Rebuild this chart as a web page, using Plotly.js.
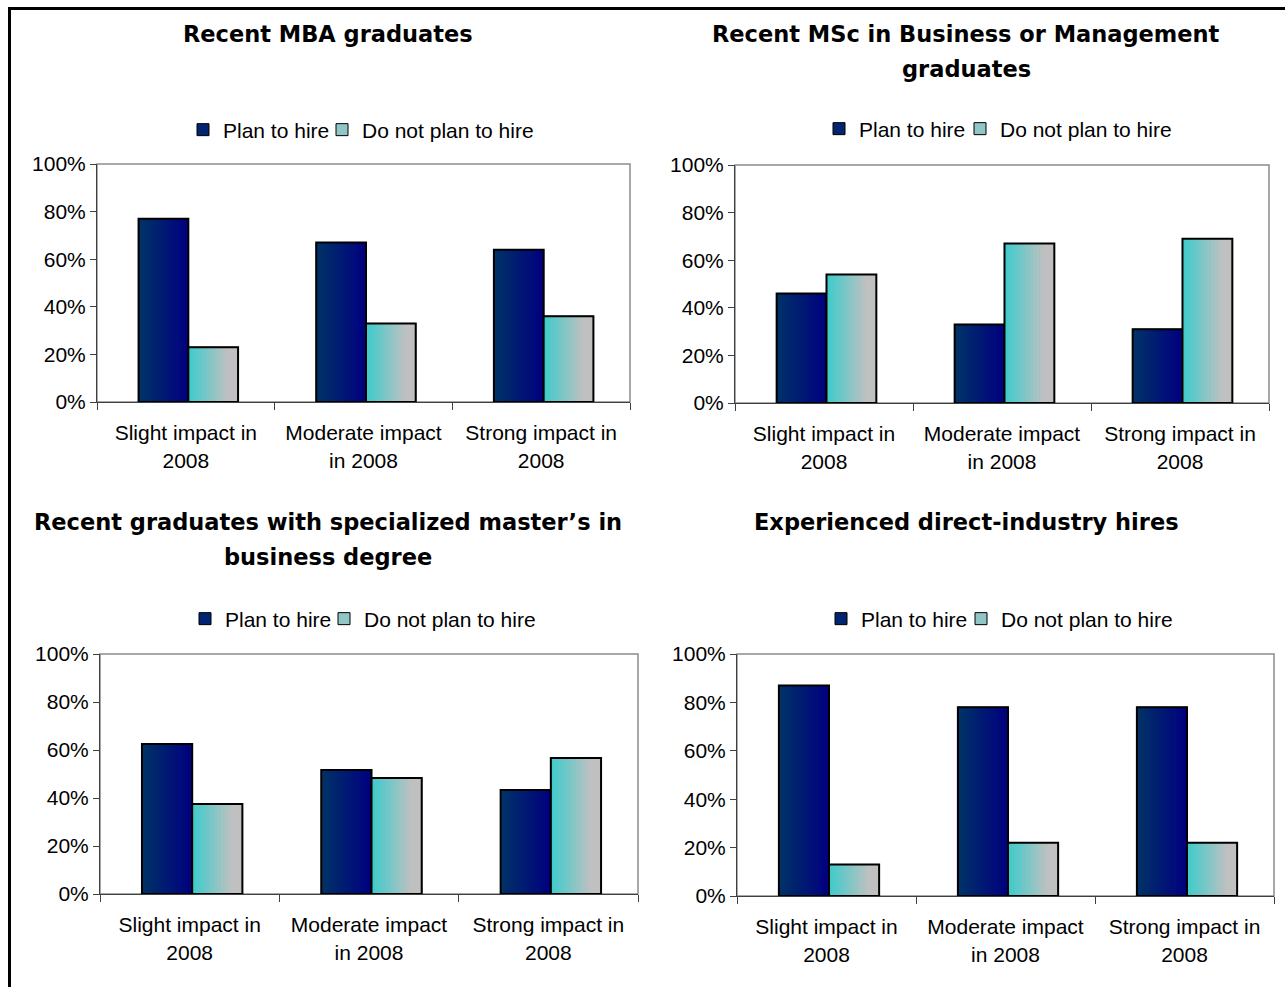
<!DOCTYPE html>
<html>
<head>
<meta charset="utf-8">
<script src="https://cdn.plot.ly/plotly-3.0.1.min.js"></script>
<style>html,body{margin:0;padding:0;background:#fff;}#chart{width:1285px;height:987px;}</style>
</head>
<body>
<div id="chart"></div>
<script>
// ---- data ----
const categories = ["Slight impact in<br>2008", "Moderate impact<br>in 2008", "Strong impact in<br>2008"];
const seriesNames = ["Plan to hire", "Do not plan to hire"];
const panelTitles = [
  "Recent MBA graduates",
  "Recent MSc in Business or Management<br>graduates",
  "Recent graduates with specialized master\u2019s in<br>business degree",
  "Experienced direct-industry hires"
];
const mbaPlan = [77, 67, 64];
const mbaNotPlan = [23, 33, 36];
const mscPlan = [46, 33, 31];
const mscNotPlan = [54, 67, 69];
const specPlan = [62.5, 51.7, 43.3];
const specNotPlan = [37.5, 48.3, 56.7];
const expPlan = [87, 78, 78];
const expNotPlan = [13, 22, 22];
const yTickVals = [0, 20, 40, 60, 80, 100];
const yTickText = ["0%", "20%", "40%", "60%", "80%", "100%"];

// ---- layout helpers ----
const W = 1285, H = 987;
const fx = p => p / W;
const fy = p => 1 - p / H;
const panels = [
  {plan: mbaPlan, not: mbaNotPlan, box: [97, 630, 164, 402], titleX: 328, titleY: [34], legX: [226, 365], legY: 130},
  {plan: mscPlan, not: mscNotPlan, box: [735, 1269, 165, 403], titleX: 966, titleY: [34, 69], legX: [862, 1003], legY: 129},
  {plan: specPlan, not: specNotPlan, box: [100, 638, 654, 894], titleX: 328, titleY: [522, 557], legX: [228, 367], legY: 619},
  {plan: expPlan, not: expNotPlan, box: [737, 1274, 654, 896], titleX: 966, titleY: [522], legX: [864, 1004], legY: 619}
];

function hexToRgb(h){return [1,3,5].map(i=>parseInt(h.substr(i,2),16));}
function mix(a,b,t){const A=hexToRgb(a),B=hexToRgb(b);return 'rgb('+A.map((v,i)=>Math.round(v+(B[i]-v)*t)).join(',')+')';}

const BAR_W = 0.28;
const OFFSETS = [-0.266, 0.014];
const GRADS = [
  {from: '#003366', to: '#000080', stop: 1.0, mid: '#02256f'},
  {from: '#3ccccc', to: '#c0c0c0', stop: 0.8, mid: '#90c6c6'}
];
const NSTRIP = 14;
const LEG_TEXT_OFFSET = 43;

const FONT = 'Liberation Sans, Arial, sans-serif';
const TFONT = 'DejaVu Sans, sans-serif';

const data = [];
const layout = {
  width: W, height: H,
  margin: {l: 0, r: 0, t: 0, b: 0},
  paper_bgcolor: '#ffffff', plot_bgcolor: '#ffffff',
  barmode: 'overlay',
  showlegend: true,
  annotations: [], shapes: [],
  font: {family: FONT, size: 21, color: '#000'}
};

panels.forEach((p, k) => {
  const n = k + 1;
  const xa = 'xaxis' + (n === 1 ? '' : n), ya = 'yaxis' + (n === 1 ? '' : n);
  const xr = 'x' + (n === 1 ? '' : n), yr = 'y' + (n === 1 ? '' : n);
  const [x0, x1, y0, y1] = p.box;
  layout[xa] = {
    domain: [fx(x0), fx(x1)], anchor: yr, type: 'category',
    range: [-0.5, 2.5], tickson: 'boundaries', ticks: 'outside', ticklen: 7, tickwidth: 1, tickcolor: '#404040',
    showline: true, linecolor: '#404040', linewidth: 1, showgrid: false, zeroline: false,
    ticklabelstandoff: 12,
    tickfont: {family: FONT, size: 21, color: '#000'}, fixedrange: true
  };
  layout[ya] = {
    domain: [fy(y1), fy(y0)], anchor: xr, range: [0, 100],
    tickmode: 'array', tickvals: yTickVals, ticktext: yTickText,
    ticks: 'outside', ticklen: 6, tickwidth: 1, tickcolor: '#404040',
    showline: true, linecolor: '#404040', linewidth: 1, showgrid: false, zeroline: false,
    tickfont: {family: FONT, size: 21, color: '#000'}, fixedrange: true
  };
  // one legend per series so the items sit where the reference puts them
  const legNames = [0, 1].map(s => {
    const idx = k * 2 + s + 1;
    const name = 'legend' + (idx === 1 ? '' : idx);
    layout[name] = {
      orientation: 'h', x: fx(p.legX[s] - LEG_TEXT_OFFSET), xanchor: 'left', y: fy(p.legY), yanchor: 'middle',
      font: {family: FONT, size: 21, color: '#000'}, bgcolor: 'rgba(0,0,0,0)', itemwidth: 30,
      itemclick: false, itemdoubleclick: false
    };
    return name;
  });
  // plot area frame (gray top/right)
  layout.shapes.push({type: 'rect', xref: xr + ' domain', yref: yr + ' domain', x0: 0, x1: 1, y0: 0, y1: 1,
    line: {color: '#8c8c8c', width: 1.5}, fillcolor: 'rgba(0,0,0,0)', layer: 'below'});
  // title
  const lines = panelTitles[k].split('<br>');
  lines.forEach((t, i) => {
    layout.annotations.push({text: '<b>' + t + '</b>', xref: 'paper', yref: 'paper',
      x: fx(p.titleX), y: fy(p.titleY[i]), xanchor: 'center', yanchor: 'middle', showarrow: false,
      font: {family: TFONT, size: 22.5, color: '#000'}});
  });

  [p.plan, p.not].forEach((vals, s) => {
    const g = GRADS[s];
    // legend / base trace
    data.push({type: 'bar', x: categories, y: vals, xaxis: xr, yaxis: yr, name: seriesNames[s],
      legend: legNames[s], width: BAR_W, offset: OFFSETS[s],
      marker: {color: g.mid, line: {color: '#000', width: 1}}, hoverinfo: 'skip'});
    // gradient strips
    const sw = BAR_W / NSTRIP;
    for (let i = 0; i < NSTRIP; i++) {
      const t = Math.min(1, (i + 0.5) / NSTRIP / g.stop);
      data.push({type: 'bar', x: categories, y: vals, xaxis: xr, yaxis: yr, showlegend: false,
        width: (i === NSTRIP - 1) ? sw : sw * 1.6, offset: OFFSETS[s] + i * sw,
        marker: {color: mix(g.from, g.to, t), line: {width: 0}}, hoverinfo: 'skip'});
    }
    // outline
    data.push({type: 'bar', x: categories, y: vals, xaxis: xr, yaxis: yr, showlegend: false,
      width: BAR_W, offset: OFFSETS[s],
      marker: {color: 'rgba(0,0,0,0)', line: {color: '#000', width: 2}}, hoverinfo: 'skip'});
  });
});

// outer frame (left and top)
layout.shapes.push({type: 'line', xref: 'paper', yref: 'paper', x0: fx(9.5), x1: fx(9.5), y0: 0, y1: fy(7), line: {color: '#000', width: 3}});
layout.shapes.push({type: 'line', xref: 'paper', yref: 'paper', x0: fx(8), x1: 1, y0: fy(8.5), y1: fy(8.5), line: {color: '#000', width: 3}});

Plotly.newPlot('chart', data, layout, {displayModeBar: false, staticPlot: true});
</script>
</body>
</html>
